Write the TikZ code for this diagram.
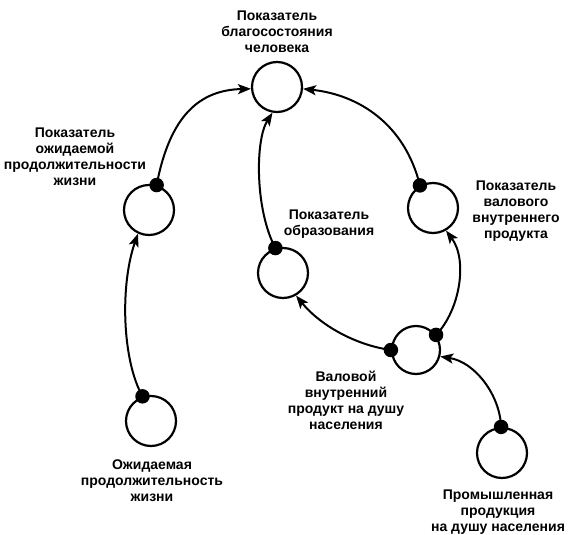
\documentclass[tikz,border=0pt]{standalone}
\usepackage{fontspec}
\setmainfont{Liberation Sans}
\usetikzlibrary{arrows.meta}
\begin{document}
\begin{tikzpicture}[x=1pt,y=-1pt,
  loop/.style={circle,draw,line width=2.2pt,minimum size=50pt,inner sep=0pt},
  dotc/.style={circle,fill,inner sep=0pt,minimum size=14.5pt},
  lbl/.style={align=center,font=\fontsize{14}{16}\selectfont\bfseries,inner sep=0pt},
  link/.style={line width=2pt,-{Stealth[length=13pt,width=10pt,inset=3pt]}}]
\useasboundingbox (0,0) rectangle (570,535);
% circles
\node[loop] (A) at (277,87) {};
\node[loop] (B) at (149,210) {};
\node[loop] (C) at (283,273) {};
\node[loop] (D) at (433,208) {};
\node[loop,minimum size=48pt] (E) at (416,350) {};
\node[loop] (F) at (151,421) {};
\node[loop] (G) at (502,453) {};
% dots
\node[dotc] (dB) at (B.73) {};
\node[dotc] (dC) at (C.107) {};
\node[dotc] (dD) at (D.120) {};
\node[dotc] (dE1) at (E.180) {};
\node[dotc] (dE2) at (E.37) {};
\node[dotc] (dF) at (F.109) {};
\node[dotc] (dG) at (G.92) {};
% connectors
\draw[link] (dF.center) .. controls (122,360) and (120,285) .. (B.245);
\draw[link] (dB.center) .. controls (170,115) and (200,90) .. (A.184);
\draw[link] (dC.center) .. controls (255,210) and (255,140) .. (A.260);
\draw[link] (dD.center) .. controls (405,125) and (360,95) .. (A.356);
\draw[link] (dE1.center) .. controls (355,345) and (320,325) .. (C.300);
\draw[link] (dE2.center) .. controls (460,310) and (468,260) .. (D.300);
\draw[link] (dG.center) .. controls (500,395) and (475,362) .. (E.345);
% labels
\node[lbl] (tA) at (277,32) {Показатель\\благосостояния\\человека};
\node[lbl] (tB) at (75,156.5) {Показатель\\ожидаемой\\продолжительности\\жизни};
\node[lbl] (tC) at (329,224) {Показатель\\образования};
\node[lbl] (tD) at (516,211) {Показатель\\валового\\внутреннего\\продукта};
\node[lbl] (tE) at (346,400) {Валовой\\внутренний\\продукт на душу\\населения};
\node[lbl] (tF) at (152,481) {Ожидаемая\\продолжительность\\жизни};
\node[lbl] (tG) at (498,512) {Промышленная\\продукция\\на душу населения};
\end{tikzpicture}
\end{document}
